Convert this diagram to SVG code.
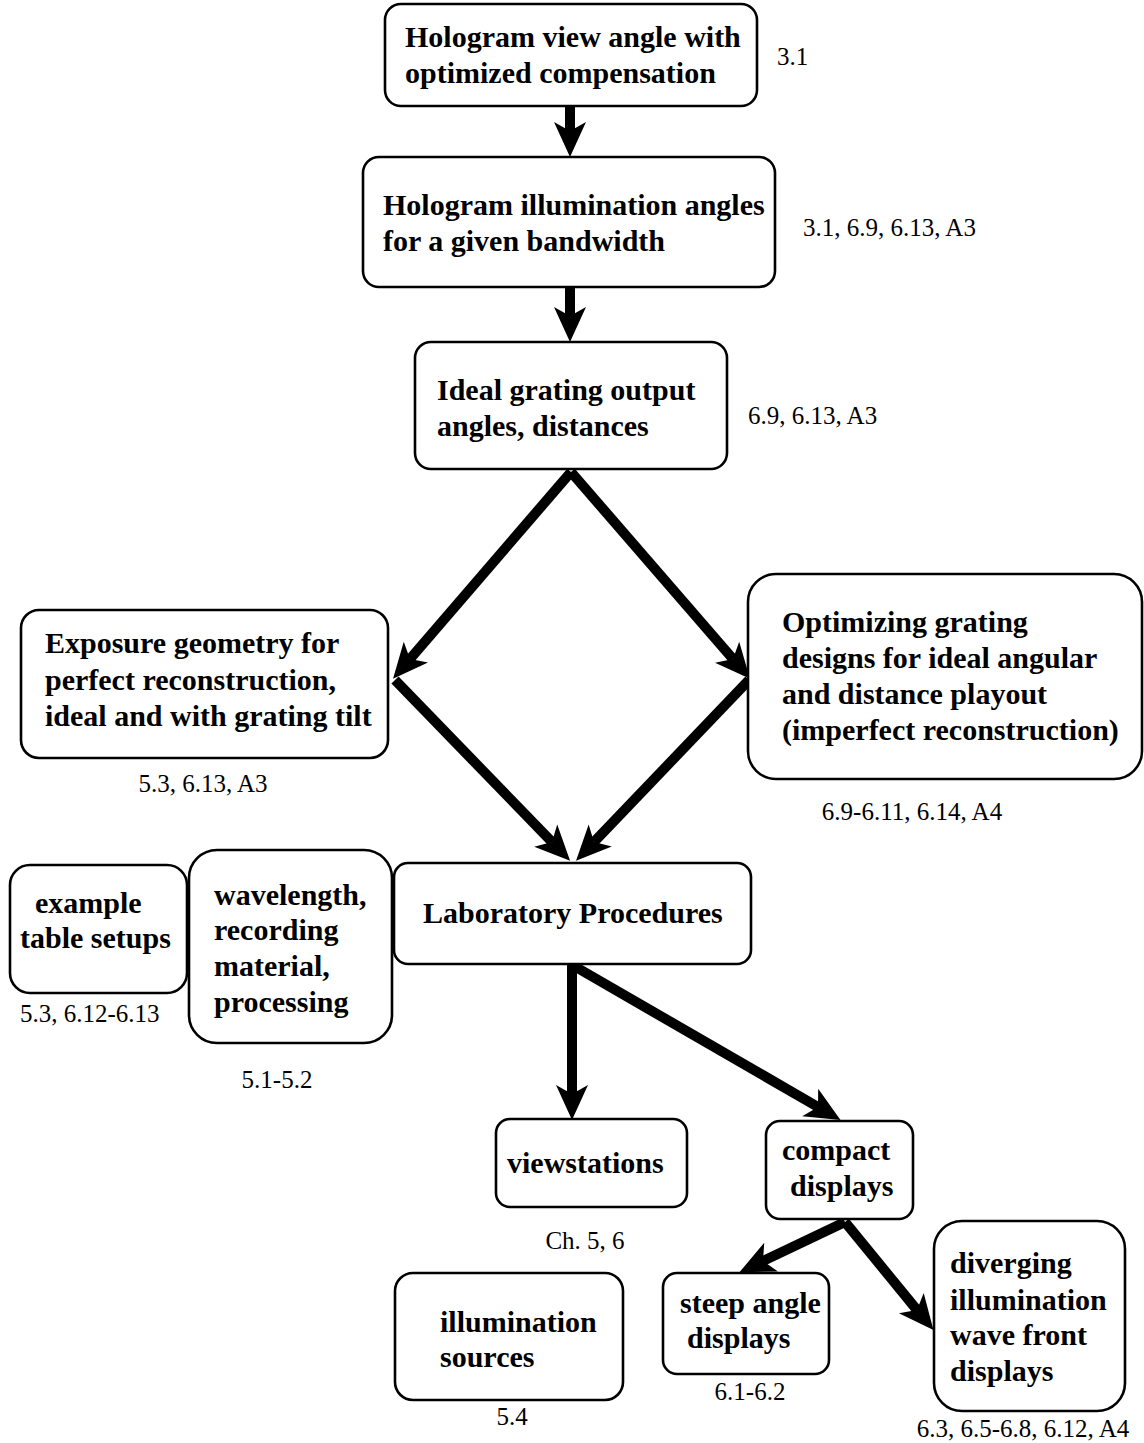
<svg xmlns="http://www.w3.org/2000/svg" width="1144" height="1443" viewBox="0 0 1144 1443">
<style>
.box{fill:#fff;stroke:#000;stroke-width:2.6}
.t{font-family:"Liberation Serif","Times New Roman",serif;font-weight:bold;font-size:30px;fill:#000}
.l{font-family:"Liberation Serif","Times New Roman",serif;font-size:25px;fill:#000}
.c{text-anchor:middle}
.a{fill:none;stroke:#000;stroke-width:10;marker-end:url(#ah)}
</style>
<defs>
<marker id="ah" markerUnits="userSpaceOnUse" markerWidth="44" markerHeight="44" viewBox="-2 -22 44 44" refX="9" refY="0" orient="auto" overflow="visible">
<path d="M35,0 L0,-16 L9,0 L0,16 Z" fill="#000"/>
</marker>
</defs>
<rect width="1144" height="1443" fill="#fff"/>
<g id="connectors">
<path class="a" d="M570,106 L570,131"/>
<path class="a" d="M570,287 L570,316"/>
<path class="a" d="M571,472 L410,659"/>
<path class="a" d="M571,472 L733,659"/>
<path class="a" d="M395,680 L552,842"/>
<path class="a" d="M749,680 L594,842"/>
<path class="a" d="M572,964 L572,1094"/>
<path class="a" d="M574,966 L818,1107"/>
<path class="a" d="M845,1222 L763,1261"/>
<path class="a" d="M845,1222 L917,1310"/>
</g>
<g id="n1"><rect class="box" x="385" y="4" width="372" height="102" rx="16"/>
<text class="t" x="405" y="47">Hologram view angle with</text><text class="t" x="405" y="83">optimized compensation</text>
<text class="l" x="777" y="65">3.1</text></g>
<g id="n2"><rect class="box" x="363" y="157" width="412" height="130" rx="16"/>
<text class="t" x="383" y="215">Hologram illumination angles</text><text class="t" x="383" y="251">for a given bandwidth</text>
<text class="l" x="803" y="236">3.1, 6.9, 6.13, A3</text></g>
<g id="n3"><rect class="box" x="415" y="342" width="312" height="127" rx="16"/>
<text class="t" x="437" y="400">Ideal grating output</text><text class="t" x="437" y="436">angles, distances</text>
<text class="l" x="748" y="424">6.9, 6.13, A3</text></g>
<g id="n4"><rect class="box" x="21" y="610" width="367" height="148" rx="18"/>
<text class="t" x="45" y="653">Exposure geometry for</text><text class="t" x="45" y="690">perfect reconstruction,</text><text class="t" x="45" y="726">ideal and with grating tilt</text>
<text class="l c" x="203" y="792">5.3, 6.13, A3</text></g>
<g id="n5"><rect class="box" x="748" y="574" width="394" height="205" rx="28"/>
<text class="t" x="782" y="632">Optimizing grating</text><text class="t" x="782" y="668">designs for ideal angular</text><text class="t" x="782" y="704">and distance playout</text><text class="t" x="782" y="740">(imperfect reconstruction)</text>
<text class="l c" x="912" y="820">6.9-6.11, 6.14, A4</text></g>
<g id="n6"><rect class="box" x="394" y="863" width="357" height="101" rx="14"/>
<text class="t" x="423" y="923">Laboratory Procedures</text></g>
<g id="n7"><rect class="box" x="10" y="865" width="177" height="128" rx="20"/>
<text class="t" x="35" y="913">example</text><text class="t" x="20" y="948">table setups</text>
<text class="l" x="20" y="1022">5.3, 6.12-6.13</text></g>
<g id="n8"><rect class="box" x="189" y="850" width="203" height="193" rx="28"/>
<text class="t" x="214" y="905">wavelength,</text><text class="t" x="214" y="940">recording</text><text class="t" x="214" y="976">material,</text><text class="t" x="214" y="1012">processing</text>
<text class="l c" x="277" y="1088">5.1-5.2</text></g>
<g id="n9"><rect class="box" x="496" y="1119" width="191" height="88" rx="14"/>
<text class="t" x="507" y="1173">viewstations</text>
<text class="l c" x="585" y="1249">Ch. 5, 6</text></g>
<g id="n10"><rect class="box" x="766" y="1121" width="147" height="98" rx="14"/>
<text class="t" x="782" y="1160">compact</text><text class="t" x="790" y="1196">displays</text></g>
<g id="n11"><rect class="box" x="663" y="1273" width="166" height="101" rx="14"/>
<text class="t" x="680" y="1313">steep angle</text><text class="t" x="687" y="1348">displays</text>
<text class="l c" x="750" y="1400">6.1-6.2</text></g>
<g id="n12"><rect class="box" x="934" y="1221" width="191" height="190" rx="28"/>
<text class="t" x="950" y="1273">diverging</text><text class="t" x="950" y="1310">illumination</text><text class="t" x="950" y="1345">wave front</text><text class="t" x="950" y="1381">displays</text>
<text class="l c" x="1023" y="1437">6.3, 6.5-6.8, 6.12, A4</text></g>
<g id="n13"><rect class="box" x="395" y="1273" width="228" height="127" rx="18"/>
<text class="t" x="440" y="1332">illumination</text><text class="t" x="440" y="1367">sources</text>
<text class="l c" x="512" y="1425">5.4</text></g>
</svg>
